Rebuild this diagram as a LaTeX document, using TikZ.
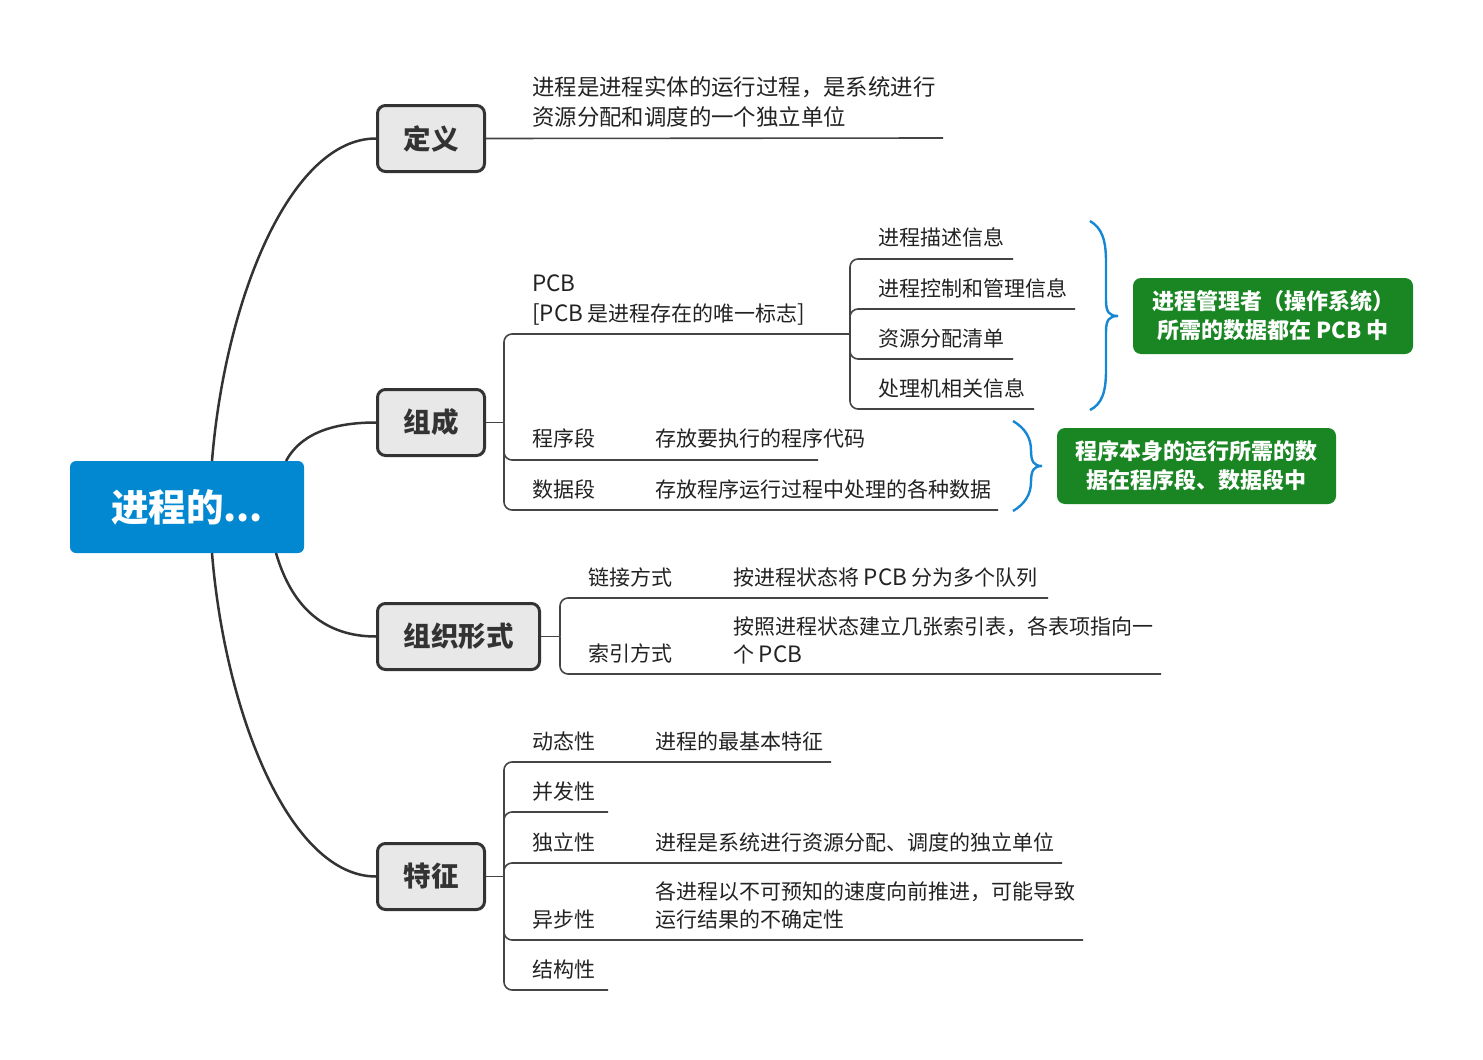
\documentclass[tikz,border=0pt]{standalone}
\usepackage{fontspec}
\setmainfont{Noto Sans CJK SC}
\definecolor{rootblue}{HTML}{0288D1}
\definecolor{topicgray}{HTML}{E8E8E8}
\definecolor{edgec}{HTML}{333333}
\definecolor{branchc}{HTML}{444444}
\definecolor{noteg}{HTML}{1A8623}
\definecolor{braceblue}{HTML}{1587D4}
\definecolor{txt}{HTML}{222222}
\newcommand{\lat}[1]{{\fontsize{22.5}{26}\selectfont #1}}
\begin{document}
\begin{tikzpicture}[x=1pt,y=-1pt,
  rootbox/.style={fill=rootblue, rounded corners=6pt, minimum width=234pt, minimum height=92pt, text=white, font=\fontsize{37.5}{40}\selectfont\bfseries, inner sep=0pt},
  topicbox/.style={draw=edgec, line width=3pt, fill=topicgray, rounded corners=8pt, minimum height=66pt, font=\fontsize{27.5}{30}\selectfont\bfseries, text=edgec, inner sep=0pt},
  lbl/.style={anchor=base west, inner sep=0pt, font=\fontsize{21}{26}\selectfont, text=txt},
  lblbig/.style={lbl, font=\fontsize{22.4}{26}\selectfont},
  curve/.style={draw=edgec, line width=2.5pt},
  branch/.style={draw=branchc, line width=1.6pt, rounded corners=8pt},
  notebox/.style={fill=noteg, rounded corners=8pt, text=white, align=center, minimum height=76pt, inner sep=0pt, font=\fontsize{22}{29}\selectfont\bfseries},
  bracel/.style={draw=braceblue, line width=2.4pt}
]
\useasboundingbox (0,0) rectangle (1483,1060);

% root and main topics
\node[rootbox] (root) at (187,507) {进程的...};
\node[topicbox, minimum width=107pt] (dy) at (431,138.5) {定义};
\node[topicbox, minimum width=107pt] (zc) at (431,422.5) {组成};
\node[topicbox, minimum width=162pt] (zz) at (458.5,636.5) {组织形式};
\node[topicbox, minimum width=107pt] (tz) at (431,876.5) {特征};

% main curves
\coordinate (r1) at (212,461);
\coordinate (r2) at (286,461);
\coordinate (r3) at (276,553);
\coordinate (r4) at (212,553);
\draw[curve] (r1) .. controls (225,300) and (290,138.5) .. (dy.west);
\draw[curve] (r2) .. controls (300,435) and (330,422.5) .. (zc.west);
\draw[curve] (r3) .. controls (292,608) and (325,636.5) .. (zz.west);
\draw[curve] (r4) .. controls (225,714) and (290,876.5) .. (tz.west);

% definition
\coordinate (dyE) at (943,138);
\draw[branch] (dy.east) -- (dyE);
\node[lblbig] (dyT1) at (532,95) {进程是进程实体的运行过程，是系统进行};
\node[lblbig] (dyT2) at (532,125) {资源分配和调度的一个独立单位};

% composition
\coordinate (zcJ) at (504,422.5);
\coordinate (pcbE) at (850,334);
\coordinate (cxE) at (818,460);
\coordinate (sjE) at (998,510);
\draw[branch] (zc.east) -- (zcJ);
\draw[branch] (zcJ) |- (pcbE);
\draw[branch] (zcJ) |- (cxE);
\draw[branch] (zcJ) |- (sjE);
\node[lbl] (pcbT1) at (532,291) {\lat{PCB}};
\node[lbl] (pcbT2) at (532,321) {\lat{[PCB} 是进程存在的唯一标志\lat{]}};
\node[lbl] (cx) at (532,446) {程序段};
\node[lbl] (cxD) at (655,446) {存放要执行的程序代码};
\node[lbl] (sj) at (532,497) {数据段};
\node[lbl] (sjD) at (655,497) {存放程序运行过程中处理的各种数据};

% PCB children
\coordinate (pcbJ) at (850,334);
\coordinate (p1E) at (1013,259);
\coordinate (p2E) at (1075,309);
\coordinate (p3E) at (1013,359);
\coordinate (p4E) at (1034,409);
\draw[branch] (pcbJ) |- (p1E);
\draw[branch] (pcbJ) |- (p2E);
\draw[branch] (pcbJ) |- (p3E);
\draw[branch] (pcbJ) |- (p4E);
\node[lbl] (p1) at (878,245) {进程描述信息};
\node[lbl] (p2) at (878,296) {进程控制和管理信息};
\node[lbl] (p3) at (878,346) {资源分配清单};
\node[lbl] (p4) at (878,396) {处理机相关信息};

% braces and notes
\coordinate (b1t) at (1090,221);
\coordinate (b1m) at (1118,316);
\coordinate (b1b) at (1090,410);
\draw[bracel] (b1t) .. controls (1102,228) and (1106,240) .. (1106,262) -- (1106,300) .. controls (1106,312) and (1109,316) .. (b1m) .. controls (1109,316) and (1106,320) .. (1106,332) -- (1106,370) .. controls (1106,392) and (1102,404) .. (b1b);
\node[notebox, minimum width=280pt] (n1) at (1273,316) {进程管理者（操作系统）\\所需的数据都在 PCB 中};

\coordinate (b2t) at (1013,421);
\coordinate (b2m) at (1042,466);
\coordinate (b2b) at (1013,511);
\draw[bracel] (b2t) .. controls (1025,428) and (1031,438) .. (1031,450) .. controls (1031,462) and (1034,466) .. (b2m) .. controls (1034,466) and (1031,470) .. (1031,482) .. controls (1031,494) and (1025,504) .. (b2b);
\node[notebox, minimum width=279pt] (n2) at (1196.5,466) {程序本身的运行所需的数\\据在程序段、数据段中};

% organisation
\coordinate (zzJ) at (560,636.5);
\coordinate (ljE) at (1048,598);
\coordinate (syE) at (1161,674);
\draw[branch] (zz.east) -- (zzJ);
\draw[branch] (zzJ) |- (ljE);
\draw[branch] (zzJ) |- (syE);
\node[lbl] (lj) at (588,585) {链接方式};
\node[lbl] (ljD) at (733,585) {按进程状态将 \lat{PCB} 分为多个队列};
\node[lbl] (sy) at (588,661) {索引方式};
\node[lbl] (syD1) at (733,634) {按照进程状态建立几张索引表，各表项指向一};
\node[lbl] (syD2) at (733,662) {个 \lat{PCB}};

% features
\coordinate (tzJ) at (504,876.5);
\coordinate (f1E) at (831,762);
\coordinate (f2E) at (608,812);
\coordinate (f3E) at (1062,863);
\coordinate (f4E) at (1083,940);
\coordinate (f5E) at (608,990);
\draw[branch] (tz.east) -- (tzJ);
\draw[branch] (tzJ) |- (f1E);
\draw[branch] (tzJ) |- (f2E);
\draw[branch] (tzJ) |- (f3E);
\draw[branch] (tzJ) |- (f4E);
\draw[branch] (tzJ) |- (f5E);
\node[lbl] (f1) at (532,749) {动态性};
\node[lbl] (f1D) at (655,749) {进程的最基本特征};
\node[lbl] (f2) at (532,799) {并发性};
\node[lbl] (f3) at (532,850) {独立性};
\node[lbl] (f3D) at (655,850) {进程是系统进行资源分配、调度的独立单位};
\node[lbl] (f4) at (532,927) {异步性};
\node[lbl] (f4D1) at (655,899) {各进程以不可预知的速度向前推进，可能导致};
\node[lbl] (f4D2) at (655,927) {运行结果的不确定性};
\node[lbl] (f5) at (532,977) {结构性};
\end{tikzpicture}
\end{document}
